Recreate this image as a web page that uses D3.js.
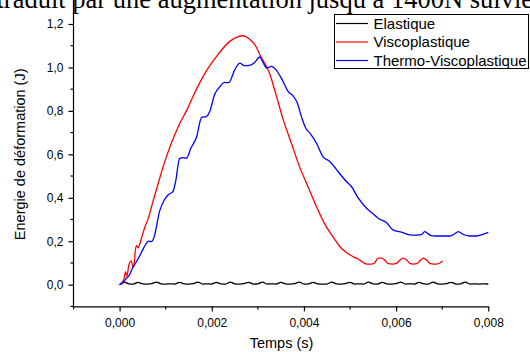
<!DOCTYPE html>
<html>
<head>
<meta charset="utf-8">
<script src="https://cdn.jsdelivr.net/npm/d3@7"></script>
<style>
  body { margin: 0; background: #fff; }
  svg { display: block; }
  .axis text { font-family: Arial, "Liberation Sans", sans-serif; font-size: 12px; fill: #000; }
  .axis path, .axis line { stroke: #000; stroke-width: 1.2; }
</style>
</head>
<body>
<div id="chart"></div>
<script>
/* Data */
var seriesNames = ["Elastique", "Viscoplastique", "Thermo-Viscoplastique"];
var seriesColors = ["#000000", "#ff0000", "#0000ff"];

var xTicks = [0, 0.002, 0.004, 0.006, 0.008];
var yTicks = [0, 0.2, 0.4, 0.6, 0.8, 1.0, 1.2];

// Elastique: sampled every 0.0001 s from 0 to 0.008 s
var elasticStep = 0.0001;
var elasticE = [0, 0.012, 0.004, 0.003, 0.011, 0.004, 0.003, 0.005, 0.012, 0.004,
    0.003, 0.004, 0.003, 0.011, 0.004, 0.003, 0.005, 0.012, 0.003, 0.004,
    0.003, 0.011, 0.004, 0.003, 0.012, 0.004, 0.003, 0.005, 0.011, 0.003,
    0.004, 0.012, 0.003, 0.004, 0.003, 0.011, 0.004, 0.003, 0.005, 0.012,
    0.003, 0.004, 0.011, 0.004, 0.003, 0.003, 0.012, 0.004, 0.003, 0.005,
    0.011, 0.003, 0.004, 0.003, 0.012, 0.004, 0.003, 0.011, 0.004, 0.003,
    0.005, 0.012, 0.003, 0.004, 0.003, 0.011, 0.004, 0.003, 0.012, 0.004,
    0.003, 0.005, 0.011, 0.003, 0.004, 0.012, 0.003, 0.004, 0.003, 0.004,
    0.003];

// Viscoplastique
var viscoT = [0, 0.00005, 0.0001, 0.00013, 0.00016, 0.0002, 0.00025, 0.0003, 0.00036, 0.0004,
    0.00047, 0.00054, 0.00063, 0.00072, 0.00083, 0.00094, 0.00112, 0.0013, 0.00145, 0.0016,
    0.00174, 0.0019, 0.0021, 0.00239, 0.00255, 0.00268, 0.00282, 0.00295, 0.00304, 0.00326,
    0.0034, 0.00355, 0.00373, 0.00391, 0.00409, 0.00427, 0.00445, 0.00463, 0.0048, 0.005,
    0.00507, 0.00514, 0.00522, 0.0053, 0.00536, 0.00545, 0.00553, 0.00561, 0.00569, 0.00576,
    0.00583, 0.00592, 0.006, 0.00607, 0.00615, 0.00622, 0.0063, 0.00637, 0.00645, 0.00652,
    0.00659, 0.00667, 0.00674, 0.00681, 0.00688, 0.00695, 0.00701];
var viscoE = [0, 0.01, 0.03, 0.06, 0.04, 0.09, 0.11, 0.08, 0.18, 0.17,
    0.21, 0.26, 0.31, 0.38, 0.46, 0.54, 0.65, 0.74, 0.80, 0.87,
    0.93, 0.99, 1.05, 1.12, 1.14, 1.146, 1.13, 1.10, 1.06, 0.97,
    0.87, 0.76, 0.65, 0.54, 0.45, 0.36, 0.28, 0.22, 0.17, 0.137,
    0.128, 0.122, 0.112, 0.10, 0.095, 0.095, 0.10, 0.122, 0.122, 0.112,
    0.097, 0.095, 0.097, 0.11, 0.122, 0.115, 0.098, 0.095, 0.097, 0.11,
    0.122, 0.112, 0.097, 0.095, 0.095, 0.10, 0.109];

// Thermo-Viscoplastique
var thermoT = [0, 0.00008, 0.00015, 0.0002, 0.00029, 0.00035, 0.00043, 0.0005, 0.00058, 0.00063,
    0.00069, 0.00075, 0.00087, 0.00097, 0.00105, 0.00116, 0.00122, 0.0013, 0.00138, 0.00145,
    0.00155, 0.00167, 0.00178, 0.00188, 0.00196, 0.00206, 0.00217, 0.00228, 0.00237, 0.0025,
    0.00261, 0.00271, 0.00286, 0.00293, 0.00304, 0.00312, 0.00319, 0.0033, 0.00339, 0.00351,
    0.00366, 0.00376, 0.00385, 0.00395, 0.00404, 0.00413, 0.00427, 0.00441, 0.00456, 0.00465,
    0.00474, 0.00492, 0.00503, 0.00518, 0.00536, 0.00548, 0.00561, 0.00579, 0.00593, 0.00615,
    0.0063, 0.00645, 0.00655, 0.00662, 0.00669, 0.00676, 0.00686, 0.00701, 0.00717, 0.00726,
    0.00735, 0.00745, 0.0076, 0.00775, 0.00788, 0.008];
var thermoE = [0, 0.01, 0.03, 0.04, 0.08, 0.10, 0.13, 0.16, 0.19, 0.20,
    0.198, 0.22, 0.34, 0.39, 0.413, 0.43, 0.48, 0.58, 0.585, 0.582,
    0.63, 0.68, 0.77, 0.774, 0.80, 0.874, 0.91, 0.931, 0.93, 0.99,
    1.02, 1.008, 1.012, 1.023, 1.048, 1.02, 0.997, 1.005, 0.99, 0.951,
    0.889, 0.87, 0.84, 0.77, 0.72, 0.698, 0.652, 0.59, 0.567, 0.545,
    0.521, 0.475, 0.452, 0.398, 0.352, 0.33, 0.306, 0.286, 0.252, 0.24,
    0.229, 0.228, 0.23, 0.244, 0.235, 0.226, 0.224, 0.224, 0.224, 0.232,
    0.244, 0.232, 0.224, 0.224, 0.232, 0.241];

var headerText = "traduit par une augmentation jusqu à 1400N suivie";

/* Layout */
var width = 530, height = 352;

var svg = d3.select("#chart").append("svg")
    .attr("width", width)
    .attr("height", height);

// surrounding document text, cut at the top as in the source page
svg.append("text")
    .attr("x", -3.5)
    .attr("y", 8)
    .style("font-family", "'Liberation Serif', 'Times New Roman', serif")
    .style("font-size", "26.5px")
    .attr("fill", "#000")
    .text(headerText);

var x = d3.scaleLinear().domain([-0.001, 0.008]).range([73.5, 488.3]);
var y = d3.scaleLinear().domain([-0.1, 1.2]).range([306.4, 24]);

var fmtX = function(d) { return d3.format(".3f")(d).replace(".", ","); };
var fmtY = function(d) { return d3.format(".1f")(d).replace(".", ","); };

// x axis: major + minor ticks
var xAxisG = svg.append("g")
    .attr("class", "axis")
    .attr("transform", "translate(0," + y(-0.1) + ")");
xAxisG.call(d3.axisBottom(x).tickValues(xTicks).tickFormat(fmtX).tickSize(5).tickSizeOuter(0).tickPadding(7));
xAxisG.append("g")
    .selectAll("line")
    .data([-0.001, 0.001, 0.003, 0.005, 0.007])
    .enter().append("line")
    .attr("x1", function(d) { return x(d); })
    .attr("x2", function(d) { return x(d); })
    .attr("y1", 0).attr("y2", 3);

// y axis: major + minor ticks, line reaching the top of the frame
var yAxisG = svg.append("g")
    .attr("class", "axis")
    .attr("transform", "translate(" + x(-0.001) + ",0)");
yAxisG.call(d3.axisLeft(y).tickValues(yTicks).tickFormat(fmtY).tickSize(5).tickSizeOuter(0).tickPadding(5));
yAxisG.select(".domain").attr("d", "M0," + y(-0.1) + "V0");
yAxisG.append("g")
    .selectAll("line")
    .data([-0.1, 0.1, 0.3, 0.5, 0.7, 0.9, 1.1])
    .enter().append("line")
    .attr("x1", 0).attr("x2", -3)
    .attr("y1", function(d) { return y(d); })
    .attr("y2", function(d) { return y(d); });

// axis titles
svg.append("text")
    .attr("x", 281.5)
    .attr("y", 348)
    .attr("text-anchor", "middle")
    .style("font-family", "Arial, 'Liberation Sans', sans-serif")
    .style("font-size", "14.5px")
    .text("Temps (s)");

svg.append("text")
    .attr("transform", "translate(25," + y(0.6) + ") rotate(-90)")
    .attr("text-anchor", "middle")
    .style("font-family", "Arial, 'Liberation Sans', sans-serif")
    .style("font-size", "14.5px")
    .text("Energie de déformation (J)");

/* Series */
var series = [
    elasticE.map(function(e, i) { return [i * elasticStep, e]; }),
    viscoT.map(function(t, i) { return [t, viscoE[i]]; }),
    thermoT.map(function(t, i) { return [t, thermoE[i]]; })
];

var line = d3.line()
    .x(function(d) { return x(d[0]); })
    .y(function(d) { return y(d[1]); })
    .curve(d3.curveMonotoneX);

svg.append("g").selectAll("path")
    .data(series)
    .enter().append("path")
    .attr("d", line)
    .attr("fill", "none")
    .attr("stroke", function(d, i) { return seriesColors[i]; })
    .attr("stroke-width", 1.3);

/* Legend */
var legend = svg.append("g").attr("transform", "translate(334.5,14.5)");
legend.append("rect")
    .attr("width", 194)
    .attr("height", 54)
    .attr("fill", "#fff")
    .attr("stroke", "#000")
    .attr("stroke-width", 1);

var rowY = [9, 27.5, 46];
var item = legend.selectAll(".item")
    .data(seriesNames)
    .enter().append("g")
    .attr("transform", function(d, i) { return "translate(0," + rowY[i] + ")"; });
item.append("line")
    .attr("x1", 1.5).attr("x2", 33.5)
    .attr("stroke", function(d, i) { return seriesColors[i]; })
    .attr("stroke-width", 1.2);
item.append("text")
    .attr("x", 39)
    .attr("dy", "0.36em")
    .style("font-family", "Arial, 'Liberation Sans', sans-serif")
    .style("font-size", "15px")
    .text(function(d) { return d; });
</script>
</body>
</html>
